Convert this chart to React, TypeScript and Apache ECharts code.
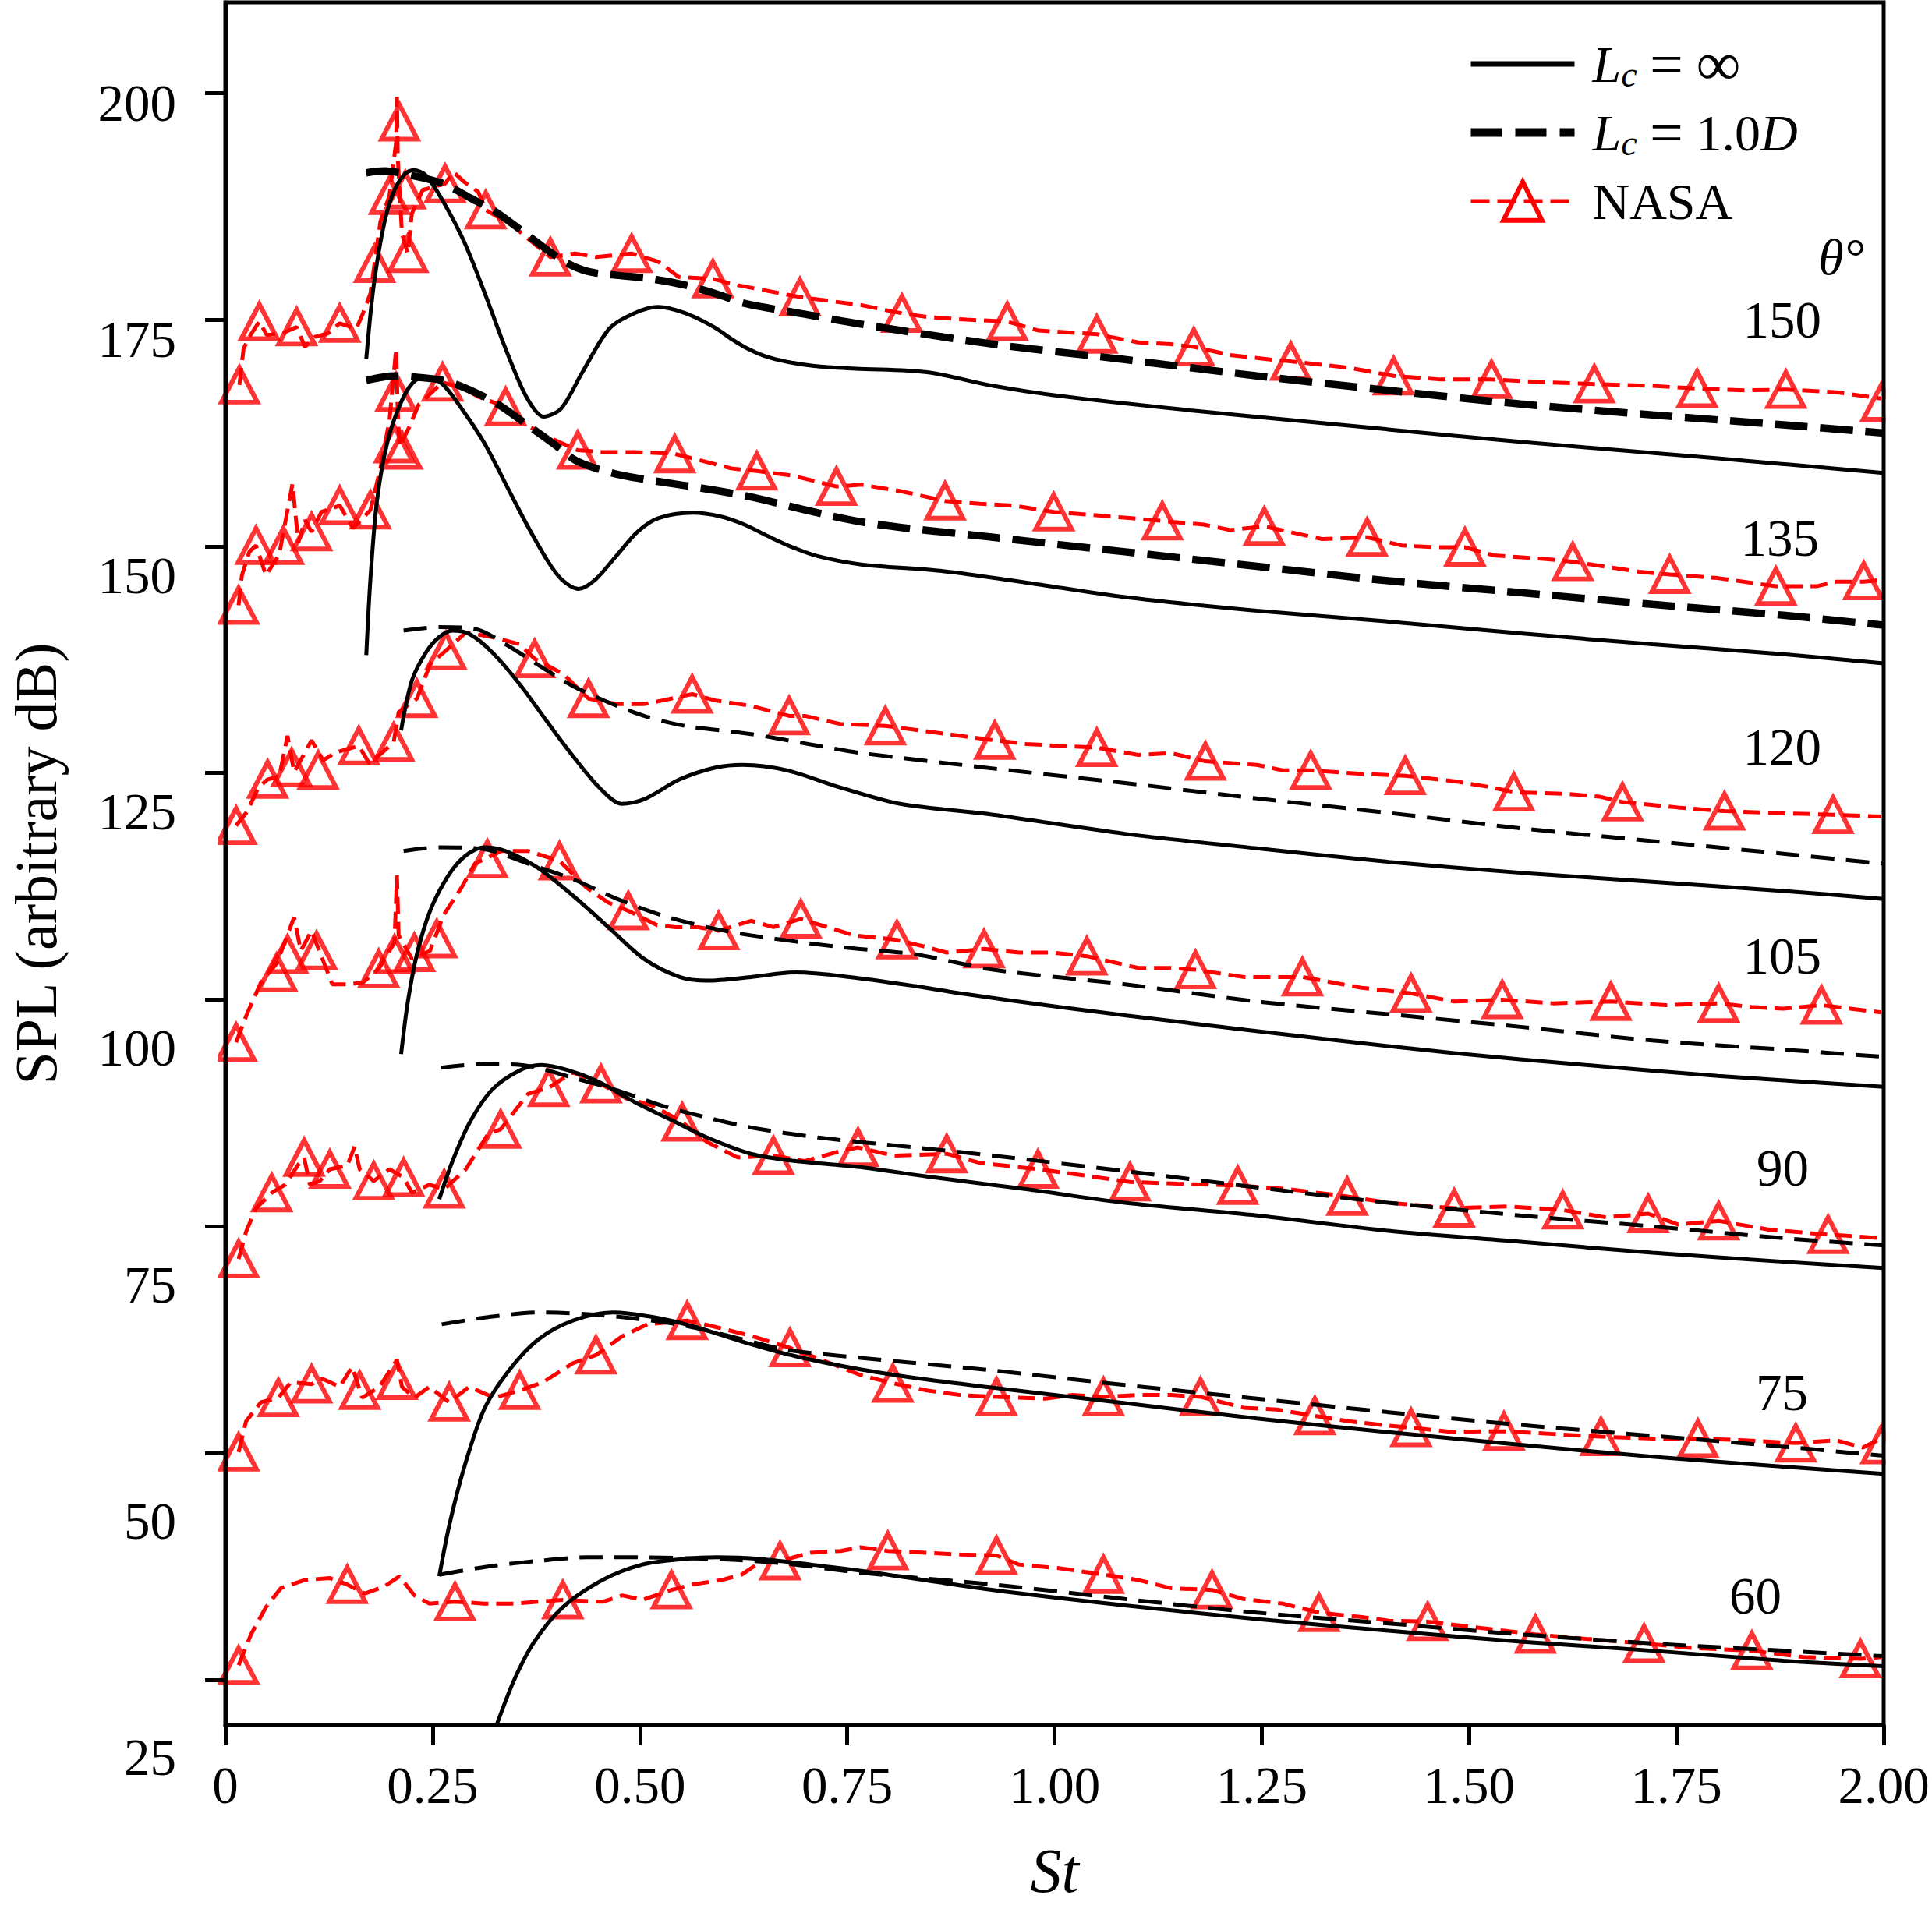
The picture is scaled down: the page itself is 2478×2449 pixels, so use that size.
import React, { useEffect, useRef } from 'react';
import * as echarts from 'echarts';

const FONT = "'Liberation Serif', 'Times New Roman', serif";
const RED = '#ff0000';

// ---- axes ----
const SPL_TICKS = [25, 50, 75, 100, 125, 150, 175, 200];
const ANGLES = [150, 135, 120, 105, 90, 75, 60];

// ---- theta = 150 ----
const S150 = [[0.170,170.7],[0.179,178.8],[0.192,185.8],[0.204,189.3],[0.217,191.1],[0.227,191.5],[0.242,190.9],[0.263,188.0],[0.288,183.6],[0.313,177.9],[0.338,171.8],[0.363,166.5],[0.384,164.3],[0.405,165.2],[0.430,169.1],[0.463,174.0],[0.493,175.7],[0.522,176.4],[0.555,175.7],[0.589,174.2],[0.610,172.9],[0.630,171.8],[0.650,171.0],[0.675,170.4],[0.710,169.9],[0.760,169.6],[0.846,169.2],[0.926,167.7],[1.005,166.6],[1.164,165.0],[1.323,163.6],[1.482,162.2],[1.641,160.9],[1.800,159.7],[2.000,158.1]];
const D150 = [[0.170,191.2],[0.192,191.4],[0.225,190.9],[0.263,190.0],[0.296,188.4],[0.326,186.9],[0.359,184.7],[0.388,182.7],[0.413,181.2],[0.438,180.3],[0.472,179.9],[0.514,179.5],[0.555,178.8],[0.597,177.7],[0.626,176.8],[0.699,175.6],[0.767,174.5],[0.926,172.3],[1.085,170.6],[1.244,168.8],[1.403,167.2],[1.562,165.7],[1.721,164.5],[1.879,163.4],[2.000,162.5]];
const N150 = [[0.017,167.8],[0.022,171.8],[0.029,173.1],[0.041,174.8],[0.050,173.3],[0.069,173.5],[0.086,174.2],[0.096,172.0],[0.108,173.1],[0.124,173.5],[0.138,174.6],[0.158,174.0],[0.166,175.7],[0.175,177.9],[0.180,181.2],[0.187,185.8],[0.198,188.7],[0.206,194.6],[0.207,199.6],[0.208,192.8],[0.213,184.5],[0.220,182.3],[0.225,186.7],[0.238,189.3],[0.265,190.0],[0.275,191.3],[0.288,190.2],[0.305,189.1],[0.314,187.1],[0.346,185.4],[0.392,181.9],[0.422,182.3],[0.447,181.9],[0.490,182.3],[0.522,181.4],[0.547,179.7],[0.588,179.5],[0.618,178.8],[0.693,177.5],[0.767,176.6],[0.816,175.7],[0.846,175.3],[0.894,175.0],[0.943,174.8],[0.981,173.8],[1.051,173.4],[1.101,172.5],[1.140,172.3],[1.168,172.0],[1.212,171.1],[1.260,170.6],[1.285,170.4],[1.355,169.7],[1.409,168.8],[1.466,168.4],[1.527,168.4],[1.593,168.1],[1.651,167.9],[1.721,167.7],[1.775,167.4],[1.832,167.2],[1.882,167.3],[1.943,167.0],[1.997,166.3]];
const M150 = [[0.017,167.8],[0.041,174.8],[0.086,174.2],[0.138,174.6],[0.180,181.2],[0.198,188.7],[0.210,196.8],[0.217,189.3],[0.220,182.3],[0.265,190.0],[0.314,187.1],[0.392,181.9],[0.490,182.3],[0.588,179.5],[0.693,177.5],[0.816,175.7],[0.943,174.8],[1.051,173.4],[1.168,172.0],[1.285,170.4],[1.409,168.8],[1.527,168.4],[1.651,167.9],[1.775,167.4],[1.882,167.3],[1.997,165.9]];

// ---- theta = 135 ----
const S135 = [[0.170,138.0],[0.175,146.4],[0.183,155.1],[0.196,161.7],[0.213,166.1],[0.229,168.3],[0.246,168.6],[0.263,167.8],[0.288,164.8],[0.313,161.3],[0.338,156.9],[0.363,152.5],[0.388,148.5],[0.405,146.4],[0.426,145.3],[0.447,146.4],[0.472,149.0],[0.497,151.6],[0.522,153.1],[0.564,153.7],[0.597,153.3],[0.626,152.4],[0.655,151.1],[0.684,149.9],[0.715,148.9],[0.767,148.0],[0.862,147.3],[0.966,146.0],[1.085,144.4],[1.244,142.9],[1.403,141.7],[1.562,140.4],[1.721,139.2],[1.879,138.1],[2.000,137.1]];
const D135 = [[0.170,168.3],[0.204,168.8],[0.225,168.7],[0.263,168.3],[0.296,167.2],[0.330,165.6],[0.367,163.2],[0.396,161.3],[0.422,159.5],[0.447,158.6],[0.480,157.8],[0.526,157.1],[0.576,156.4],[0.626,155.6],[0.767,152.7],[0.926,151.0],[1.085,149.4],[1.244,147.8],[1.403,146.2],[1.562,144.9],[1.721,143.6],[1.879,142.4],[2.000,141.3]];
const N135 = [[0.016,143.5],[0.020,146.8],[0.029,149.4],[0.037,150.1],[0.049,146.8],[0.065,149.1],[0.081,156.9],[0.088,150.4],[0.096,152.9],[0.104,151.6],[0.116,153.8],[0.138,154.5],[0.154,152.0],[0.175,154.0],[0.187,158.6],[0.198,163.9],[0.206,171.8],[0.208,164.8],[0.210,161.0],[0.221,163.0],[0.233,165.6],[0.262,168.1],[0.288,167.4],[0.305,166.5],[0.338,165.4],[0.363,163.4],[0.388,162.1],[0.425,160.6],[0.455,160.4],[0.493,160.4],[0.542,160.2],[0.572,159.5],[0.610,158.6],[0.641,158.3],[0.684,157.8],[0.737,156.6],[0.767,156.8],[0.814,156.1],[0.868,155.0],[0.910,154.7],[0.950,154.5],[0.999,153.8],[1.053,153.4],[1.093,153.1],[1.130,152.8],[1.180,152.4],[1.212,151.8],[1.253,152.2],[1.323,150.8],[1.377,151.0],[1.419,150.1],[1.458,149.9],[1.495,149.9],[1.530,149.0],[1.593,148.6],[1.625,148.3],[1.705,147.2],[1.742,146.9],[1.800,146.5],[1.870,145.6],[1.919,145.6],[1.943,146.1],[1.976,146.1],[1.997,146.3]];
const M135 = [[0.016,143.5],[0.037,150.1],[0.070,150.1],[0.104,151.6],[0.138,154.5],[0.175,154.0],[0.204,161.3],[0.213,160.6],[0.206,167.0],[0.262,168.1],[0.338,165.4],[0.425,160.6],[0.542,160.2],[0.641,158.3],[0.737,156.6],[0.868,155.0],[0.999,153.8],[1.130,152.8],[1.253,152.2],[1.377,151.0],[1.495,149.9],[1.625,148.3],[1.742,146.9],[1.870,145.6],[1.976,146.2]];

// ---- theta = 120 ----
const S120 = [[0.212,129.7],[0.225,135.2],[0.242,138.3],[0.258,140.0],[0.274,140.7],[0.295,140.3],[0.322,138.3],[0.355,134.8],[0.387,130.8],[0.419,126.9],[0.451,123.4],[0.478,121.6],[0.505,122.1],[0.548,124.3],[0.591,125.6],[0.624,125.9],[0.677,125.3],[0.742,123.4],[0.814,121.6],[0.926,120.4],[1.085,118.3],[1.244,116.7],[1.403,115.2],[1.562,114.0],[1.721,113.0],[1.879,112.0],[2.000,111.1]];
const D120 = [[0.215,140.7],[0.258,141.1],[0.301,140.9],[0.338,139.2],[0.376,137.0],[0.419,134.6],[0.462,132.8],[0.505,131.3],[0.554,130.2],[0.634,129.3],[0.715,128.0],[0.767,127.2],[0.926,125.5],[1.085,123.9],[1.244,122.2],[1.403,120.6],[1.562,118.9],[1.721,117.5],[1.879,116.1],[2.000,115.0]];
const N120 = [[0.013,119.2],[0.026,120.7],[0.040,123.4],[0.051,124.3],[0.065,124.6],[0.075,129.1],[0.083,125.1],[0.104,128.6],[0.118,126.4],[0.134,127.3],[0.161,128.0],[0.174,126.0],[0.203,128.4],[0.209,131.7],[0.231,133.2],[0.247,137.0],[0.266,138.5],[0.290,140.5],[0.322,140.0],[0.355,139.2],[0.373,137.6],[0.408,135.9],[0.438,133.2],[0.473,132.6],[0.505,132.6],[0.527,133.0],[0.563,133.7],[0.591,133.0],[0.634,132.4],[0.680,131.3],[0.699,131.3],[0.742,130.4],[0.796,130.2],[0.846,129.6],[0.928,128.6],[0.966,128.2],[1.005,128.0],[1.051,127.8],[1.101,127.0],[1.140,127.2],[1.182,126.3],[1.244,125.9],[1.275,125.3],[1.309,125.3],[1.371,124.9],[1.423,124.7],[1.482,124.1],[1.522,123.5],[1.554,122.9],[1.617,122.7],[1.657,122.4],[1.685,121.8],[1.752,121.2],[1.808,120.8],[1.864,120.6],[1.939,120.4],[1.997,120.2]];
const M120 = [[0.013,119.2],[0.051,124.3],[0.080,125.6],[0.112,125.3],[0.161,128.0],[0.203,128.4],[0.231,133.2],[0.266,138.5],[0.373,137.6],[0.438,133.2],[0.563,133.7],[0.680,131.3],[0.796,130.2],[0.928,128.6],[1.051,127.8],[1.182,126.3],[1.309,125.3],[1.423,124.7],[1.554,122.9],[1.685,121.8],[1.808,120.8],[1.939,120.4]];

// ---- theta = 105 ----
const S105 = [[0.212,94.0],[0.220,99.7],[0.231,105.0],[0.247,109.8],[0.269,113.7],[0.290,115.9],[0.312,116.8],[0.338,116.4],[0.376,114.6],[0.419,111.5],[0.462,108.0],[0.505,104.5],[0.548,102.5],[0.581,102.1],[0.634,102.5],[0.688,103.0],[0.753,102.5],[0.832,101.5],[0.886,100.7],[1.005,99.2],[1.164,97.4],[1.323,95.7],[1.482,94.1],[1.641,92.8],[1.800,91.6],[2.000,90.4]];
const D105 = [[0.215,116.4],[0.258,116.8],[0.312,116.6],[0.365,115.0],[0.419,113.3],[0.473,111.1],[0.527,109.3],[0.581,108.0],[0.634,107.1],[0.742,105.8],[0.832,105.0],[0.926,103.3],[1.085,101.7],[1.244,99.8],[1.403,98.4],[1.562,97.0],[1.721,95.5],[1.879,94.5],[2.000,93.7]];
const N105 = [[0.013,95.3],[0.026,98.4],[0.043,101.9],[0.062,104.0],[0.083,109.1],[0.091,105.4],[0.104,107.6],[0.129,101.7],[0.150,101.7],[0.166,101.9],[0.185,103.4],[0.204,106.3],[0.207,113.7],[0.209,107.1],[0.225,104.5],[0.247,105.4],[0.263,109.3],[0.285,112.4],[0.301,115.0],[0.333,116.4],[0.365,116.4],[0.403,115.3],[0.435,112.4],[0.462,110.7],[0.486,109.8],[0.521,108.2],[0.543,108.0],[0.570,108.0],[0.595,107.6],[0.634,108.7],[0.661,108.0],[0.694,108.9],[0.726,108.0],[0.758,107.1],[0.810,106.6],[0.846,105.8],[0.870,105.2],[0.915,105.6],[0.957,105.2],[0.997,105.2],[1.039,104.8],[1.101,103.5],[1.140,103.5],[1.170,103.3],[1.228,102.5],[1.259,102.5],[1.299,102.5],[1.371,101.3],[1.430,100.7],[1.482,99.8],[1.540,100.0],[1.601,99.6],[1.671,99.8],[1.737,99.4],[1.801,99.6],[1.840,99.2],[1.879,99.0],[1.925,99.4],[1.997,98.6]];
const M105 = [[0.013,95.3],[0.062,103.0],[0.075,105.0],[0.110,105.4],[0.185,103.4],[0.204,105.0],[0.228,105.2],[0.255,106.7],[0.316,115.5],[0.403,115.3],[0.486,109.8],[0.595,107.6],[0.694,108.9],[0.810,106.6],[0.915,105.6],[1.039,104.8],[1.170,103.3],[1.299,102.5],[1.430,100.7],[1.540,100.0],[1.671,99.8],[1.801,99.6],[1.925,99.4]];

// ---- theta = 90 ----
const S90 = [[0.258,78.0],[0.274,82.2],[0.295,86.5],[0.322,90.1],[0.355,92.2],[0.381,92.8],[0.414,92.2],[0.451,90.9],[0.494,88.7],[0.543,86.5],[0.581,84.8],[0.634,83.0],[0.688,82.2],[0.769,81.5],[0.846,80.5],[0.966,79.1],[1.085,77.6],[1.244,76.2],[1.403,74.5],[1.562,73.3],[1.721,72.1],[1.879,71.1],[2.000,70.4]];
const D90 = [[0.260,92.5],[0.312,92.9],[0.365,92.7],[0.419,91.4],[0.473,90.0],[0.527,88.3],[0.581,87.0],[0.634,85.9],[0.715,84.8],[0.832,83.7],[0.926,82.8],[1.085,81.1],[1.244,79.3],[1.403,77.6],[1.562,76.2],[1.721,75.0],[1.879,73.7],[2.000,72.9]];
const N90 = [[0.016,71.4],[0.025,74.4],[0.037,77.0],[0.056,78.7],[0.072,79.6],[0.088,81.8],[0.095,82.6],[0.102,79.6],[0.114,80.0],[0.126,81.3],[0.147,81.7],[0.156,83.8],[0.162,81.3],[0.179,80.0],[0.198,81.3],[0.215,80.4],[0.225,78.7],[0.246,79.6],[0.264,79.1],[0.290,81.3],[0.317,85.2],[0.332,85.7],[0.365,89.6],[0.390,90.3],[0.419,92.0],[0.453,90.7],[0.484,89.1],[0.516,88.3],[0.551,86.5],[0.581,84.3],[0.618,82.6],[0.661,82.8],[0.699,82.2],[0.742,83.3],[0.763,83.7],[0.806,82.8],[0.870,83.0],[0.910,82.0],[0.980,81.3],[1.029,80.7],[1.091,79.9],[1.148,79.7],[1.221,79.5],[1.283,79.1],[1.353,78.3],[1.403,77.6],[1.482,77.0],[1.546,77.2],[1.613,76.8],[1.665,76.0],[1.716,76.4],[1.752,75.2],[1.801,75.6],[1.864,74.6],[1.933,74.1],[1.997,73.7]];
const M90 = [[0.016,71.4],[0.056,78.7],[0.095,82.6],[0.126,81.3],[0.179,80.0],[0.215,80.4],[0.264,79.1],[0.332,85.7],[0.390,90.3],[0.453,90.7],[0.551,86.5],[0.661,82.8],[0.763,83.7],[0.870,83.0],[0.980,81.3],[1.091,79.9],[1.221,79.5],[1.353,78.3],[1.482,77.0],[1.613,76.8],[1.716,76.4],[1.801,75.6],[1.933,74.1]];

// ---- theta = 75 ----
const S75 = [[0.258,36.4],[0.270,42.0],[0.288,48.4],[0.312,54.8],[0.342,59.1],[0.377,62.5],[0.419,64.6],[0.467,65.5],[0.515,65.0],[0.563,64.0],[0.623,62.3],[0.682,60.8],[0.767,59.2],[0.846,58.1],[0.926,57.2],[1.085,55.5],[1.244,53.8],[1.403,52.3],[1.562,50.9],[1.721,49.6],[1.879,48.5],[2.000,47.7]];
const D75 = [[0.261,64.2],[0.318,65.0],[0.377,65.5],[0.437,65.3],[0.497,64.8],[0.557,64.0],[0.617,62.7],[0.676,61.4],[0.766,60.5],[0.926,59.1],[1.085,57.5],[1.244,56.0],[1.403,54.5],[1.562,53.1],[1.721,51.9],[1.879,50.7],[2.000,49.7]];
const N75 = [[0.016,50.1],[0.025,53.5],[0.043,55.6],[0.064,56.1],[0.079,57.8],[0.104,57.6],[0.117,58.2],[0.138,57.3],[0.153,59.5],[0.165,56.1],[0.186,57.3],[0.207,60.3],[0.213,57.3],[0.228,56.1],[0.246,57.3],[0.270,55.6],[0.294,57.3],[0.324,56.1],[0.355,56.9],[0.383,57.8],[0.419,59.9],[0.447,60.8],[0.479,62.9],[0.509,64.2],[0.557,64.6],[0.587,64.0],[0.635,62.9],[0.681,61.6],[0.724,60.1],[0.766,58.6],[0.805,57.7],[0.846,56.9],[0.886,56.4],[0.930,56.2],[0.989,56.0],[1.021,56.4],[1.059,56.2],[1.101,56.4],[1.140,56.4],[1.176,56.2],[1.228,55.0],[1.268,54.8],[1.314,54.1],[1.355,53.5],[1.395,53.1],[1.430,52.8],[1.482,52.3],[1.514,52.4],[1.542,52.4],[1.601,52.1],[1.659,51.8],[1.721,51.6],[1.776,51.6],[1.832,51.4],[1.894,51.1],[1.943,51.4],[1.975,50.6],[1.997,51.6]];
const M75 = [[0.016,50.1],[0.064,56.1],[0.104,57.6],[0.162,56.9],[0.207,58.0],[0.270,55.6],[0.355,56.9],[0.447,60.8],[0.557,64.6],[0.681,61.6],[0.805,57.7],[0.930,56.2],[1.059,56.2],[1.176,56.2],[1.314,54.1],[1.430,52.8],[1.542,52.4],[1.659,51.8],[1.776,51.6],[1.894,51.1],[1.997,50.9]];

// ---- theta = 60 ----
const S60 = [[0.322,18.5],[0.328,20.2],[0.348,24.9],[0.372,29.1],[0.407,33.0],[0.455,36.0],[0.503,37.7],[0.551,38.3],[0.593,38.5],[0.647,38.3],[0.706,37.7],[0.767,37.0],[0.926,34.9],[1.085,33.2],[1.244,31.7],[1.403,30.4],[1.562,29.2],[1.721,28.2],[1.879,27.1],[2.000,26.5]];
const D60 = [[0.259,36.6],[0.318,37.5],[0.377,38.1],[0.437,38.5],[0.497,38.5],[0.557,38.4],[0.617,38.2],[0.677,37.8],[0.766,36.8],[0.926,35.5],[1.085,33.9],[1.244,32.4],[1.403,31.2],[1.562,30.0],[1.721,29.0],[1.879,28.2],[2.000,27.6]];
const N60 = [[0.016,26.6],[0.031,30.0],[0.049,33.0],[0.067,35.1],[0.096,36.0],[0.126,36.2],[0.147,35.5],[0.168,34.5],[0.192,35.3],[0.210,36.4],[0.228,34.3],[0.246,33.4],[0.277,33.6],[0.312,33.4],[0.348,33.4],[0.407,33.8],[0.455,33.6],[0.479,34.3],[0.503,33.8],[0.538,34.9],[0.563,35.5],[0.599,36.0],[0.623,36.6],[0.647,38.1],[0.669,38.1],[0.706,39.0],[0.742,39.2],[0.766,39.6],[0.799,39.2],[0.846,39.0],[0.886,38.8],[0.930,38.7],[0.957,37.7],[1.005,37.3],[1.059,36.6],[1.101,36.0],[1.140,35.1],[1.190,34.9],[1.228,33.9],[1.275,33.4],[1.319,32.4],[1.371,31.9],[1.403,31.5],[1.450,31.4],[1.514,30.7],[1.580,30.0],[1.641,29.5],[1.711,29.0],[1.768,28.5],[1.841,28.2],[1.903,27.5],[1.972,27.3],[1.997,27.5]];
const M60 = [[0.016,26.6],[0.147,35.5],[0.277,33.6],[0.407,33.8],[0.538,34.9],[0.669,38.1],[0.799,39.2],[0.930,38.7],[1.059,36.6],[1.190,34.9],[1.319,32.4],[1.450,31.4],[1.580,30.0],[1.711,29.0],[1.841,28.2],[1.972,27.3]];

const SOLID = [S150, S135, S120, S105, S90, S75, S60];
const DASHED = [D150, D135, D120, D105, D90, D75, D60];
const NASA_LINE = [N150, N135, N120, N105, N90, N75, N60];
const NASA_MARK = [M150, M135, M120, M105, M90, M75, M60];

// layout of angle annotations (pixel positions, right-aligned)
const LABEL_X = [2336, 2333, 2336, 2336, 2320, 2319, 2285];
const LABEL_Y = [410, 690, 958, 1226, 1498, 1786, 2047];

const NAME_INF = 'Lc=\u221e';
const NAME_1D = 'Lc=1.0D';
const NAME_NASA = 'NASA';

const hollow = { color: 'rgba(0,0,0,0)', borderColor: RED, borderWidth: 6 };

function buildOption() {
  const series: any[] = [];
  ANGLES.forEach((a, i) => {
    const thick = a >= 135;
    series.push({
      name: NAME_NASA, type: 'line', xAxisIndex: 0, yAxisIndex: 0,
      data: NASA_LINE[i], symbol: 'triangle', symbolSize: [46, 44], showSymbol: false,
      lineStyle: { color: RED, width: 5, type: [22, 10] }, itemStyle: hollow, z: 2,
      silent: true,
    });
    series.push({
      name: NAME_NASA, type: 'scatter', xAxisIndex: 0, yAxisIndex: 0,
      data: NASA_MARK[i], symbol: 'triangle', symbolSize: [46, 44],
      itemStyle: hollow, z: 3, silent: true,
    });
    series.push({
      name: NAME_1D, type: 'line', xAxisIndex: 0, yAxisIndex: 0,
      data: DASHED[i], symbol: 'none', smooth: 0.3,
      lineStyle: { color: '#000', width: thick ? 9.5 : 5, type: thick ? [42, 16] : [30, 15] },
      itemStyle: { color: '#000' }, z: 4, silent: true,
    });
    series.push({
      name: NAME_INF, type: 'line', xAxisIndex: 0, yAxisIndex: 0,
      data: SOLID[i], symbol: 'none', smooth: 0.3,
      lineStyle: { color: '#000', width: 5, type: 'solid' },
      itemStyle: { color: '#000' }, z: 5, silent: true,
    });
  });

  const graphic: any[] = ANGLES.map((a, i) => ({
    type: 'text', x: LABEL_X[i], y: LABEL_Y[i], silent: true,
    style: { text: String(a), fill: '#000', font: `67px ${FONT}`, textAlign: 'right', textVerticalAlign: 'middle' },
  }));
  graphic.push({
    type: 'text', x: 2391, y: 329, silent: true,
    style: { text: '\u03b8\u00b0', fill: '#000', font: `italic 66px ${FONT}`, textAlign: 'right', textVerticalAlign: 'middle' },
  });
  // white masks so that markers are clipped at the frame, like the original plot
  graphic.push({ type: 'rect', silent: true, z: 50, shape: { x: 232, y: 0, width: 47.5, height: 2212 }, style: { fill: '#fff' } });
  graphic.push({ type: 'rect', silent: true, z: 50, shape: { x: 2418.5, y: 0, width: 59.5, height: 2212 }, style: { fill: '#fff' } });

  return {
    animation: false,
    backgroundColor: '#fff',
    grid: [
      { left: 282, right: 62, top: 3, bottom: 236, show: true, borderColor: '#000', borderWidth: 5, backgroundColor: 'transparent', z: 60 },
      { left: 282, right: 62, top: 131.5, bottom: 195, show: false },
    ],
    xAxis: [
      {
        gridIndex: 0, type: 'value', min: 0, max: 2, interval: 0.25, z: 60,
        axisLine: { show: true, lineStyle: { color: '#000', width: 5 } },
        axisTick: { show: true, length: 26, lineStyle: { color: '#000', width: 5 } },
        axisLabel: {
          margin: 77, verticalAlign: 'middle', fontFamily: FONT, fontSize: 67, color: '#000',
          formatter: (v: number) => (v === 0 ? '0' : v.toFixed(2)),
        },
        splitLine: { show: false },
        name: 'St', nameLocation: 'middle', nameGap: 147,
        nameTextStyle: { fontFamily: FONT, fontStyle: 'italic', fontSize: 80, color: '#000' },
      },
      { gridIndex: 1, type: 'value', min: 0, max: 2, show: false },
    ],
    yAxis: [
      {
        gridIndex: 0, type: 'value', min: 20, max: 210, z: 60,
        axisLine: { show: true, lineStyle: { color: '#000', width: 5 } },
        axisTick: { show: true, length: 26, lineStyle: { color: '#000', width: 5 }, customValues: SPL_TICKS },
        axisLabel: { show: false },
        splitLine: { show: false },
        name: 'SPL (arbitrary dB)', nameLocation: 'middle', nameGap: 205,
        nameTextStyle: { fontFamily: FONT, fontSize: 76, color: '#000' },
      },
      {
        gridIndex: 1, type: 'value', min: 25, max: 200, interval: 25, z: 60,
        axisLine: { show: false }, axisTick: { show: false }, splitLine: { show: false },
        axisLabel: { show: true, margin: 56, fontFamily: FONT, fontSize: 67, color: '#000' },
      },
    ],
    legend: {
      orient: 'vertical', left: 1881, top: 42, padding: 0, itemGap: 8,
      itemWidth: 133, itemHeight: 62, selectedMode: false, z: 70,
      data: [
        { name: NAME_INF, lineStyle: { color: '#000', width: 7, type: 'solid' }, itemStyle: { opacity: 0 } },
        { name: NAME_1D, lineStyle: { color: '#000', width: 11, type: [40, 17] }, itemStyle: { opacity: 0 } },
        { name: NAME_NASA, lineStyle: { color: RED, width: 5, type: [24, 10] }, itemStyle: hollow },
      ],
      formatter: (name: string) => {
        if (name === NAME_INF) return '{it|L}{sub|c}{rm| }{eq|=}{rm| }{inf|\u221e}';
        if (name === NAME_1D) return '{it|L}{sub|c}{rm| }{eq|=}{rm| 1.0}{it|D}{inf| }';
        return '{rm|NASA}{inf| }';
      },
      textStyle: {
        fontFamily: FONT, fontSize: 66, lineHeight: 62, color: '#000', padding: [0, 0, 0, 18],
        rich: {
          it: { fontFamily: FONT, fontStyle: 'italic', fontSize: 66, lineHeight: 62, color: '#000' },
          sub: { fontFamily: FONT, fontStyle: 'italic', fontSize: 46, lineHeight: 36, padding: [26, 0, 0, 0], color: '#000' },
          rm: { fontFamily: FONT, fontSize: 66, lineHeight: 62, color: '#000' },
          eq: { fontFamily: FONT, fontSize: 76, lineHeight: 62, color: '#000' },
          inf: { fontFamily: FONT, fontSize: 80, lineHeight: 62, color: '#000' },
        },
      },
    },
    graphic,
    series,
  };
}

export default function App() {
  const ref = useRef<HTMLDivElement>(null);
  useEffect(() => {
    if (!ref.current) return;
    const chart = echarts.init(ref.current, null, { renderer: 'svg' });
    chart.setOption(buildOption() as any);
    return () => chart.dispose();
  }, []);
  return (
    <div
      ref={ref}
      style={{ position: 'absolute', left: 0, top: 0, width: 2478, height: 2449, background: '#fff' }}
    />
  );
}
